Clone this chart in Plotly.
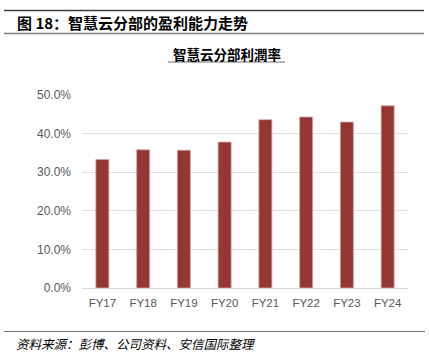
import plotly.graph_objects as go

categories = ["FY17", "FY18", "FY19", "FY20", "FY21", "FY22", "FY23", "FY24"]
margin_values = [0.333, 0.358, 0.357, 0.378, 0.436, 0.443, 0.430, 0.472]
y_ticks = [0, 0.1, 0.2, 0.3, 0.4, 0.5]
y_tick_labels = ["0.0%", "10.0%", "20.0%", "30.0%", "40.0%", "50.0%"]

W, H = 429, 356
L, R, T, B = 82, 21, 95, 68
PW, PH = W - L - R, H - T - B


def px(x):
    return (x - L) / PW


def py(y):
    return (H - B - y) / PH


fig = go.Figure()
fig.add_trace(go.Bar(
    x=categories, y=margin_values,
    marker=dict(color="#943634", line=dict(color="#d3a9a9", width=0.8)),
    width=0.32, hoverinfo="skip",
))

fig.update_layout(
    width=W, height=H,
    margin=dict(l=L, r=R, t=T, b=B),
    paper_bgcolor="white", plot_bgcolor="white",
    showlegend=False,
    font=dict(family="Liberation Sans, Arial, sans-serif", color="#595959", size=11),
    xaxis=dict(range=[-0.5, 7.5], showgrid=False, showline=False, ticks="",
               ticklabelstandoff=6,
               tickfont=dict(size=11.5, color="#595959")),
    yaxis=dict(range=[0, 0.5], tickvals=y_ticks, ticktext=y_tick_labels,
               showgrid=True, gridcolor="#e0e0e0", gridwidth=1,
               zeroline=True, zerolinecolor="#d9d9d9", zerolinewidth=1,
               showline=False, ticks="", ticklabelstandoff=10,
               tickfont=dict(size=12, color="#595959")),
)

shapes = [
    dict(type="line", xref="paper", yref="paper", x0=px(4), x1=px(424), y0=py(10.5), y1=py(10.5),
         line=dict(color="#404040", width=1.5)),
    dict(type="line", xref="paper", yref="paper", x0=px(4), x1=px(424), y0=py(33.5), y1=py(33.5),
         line=dict(color="#808080", width=1.5)),
    dict(type="line", xref="paper", yref="paper", x0=px(168), x1=px(285), y0=py(62), y1=py(62),
         line=dict(color="#a0a0a0", width=1.5)),
    dict(type="line", xref="paper", yref="paper", x0=px(4), x1=px(425), y0=py(331.5), y1=py(331.5),
         line=dict(color="#707070", width=1.2)),
]
fig.update_layout(shapes=shapes)

cjk = "Noto Sans CJK SC, sans-serif"
annotations = [
    dict(text="<b>图 18：智慧云分部的盈利能力走势</b>", xref="paper", yref="paper",
         x=px(15), y=py(22), xanchor="left", yanchor="middle", showarrow=False,
         font=dict(family=cjk, size=15, color="#000000")),
    dict(text="<b>智慧云分部利潤率</b>", xref="paper", yref="paper",
         x=px(226.5), y=py(54), xanchor="center", yanchor="middle", showarrow=False,
         font=dict(family=cjk, size=13.5, color="#000000")),
    dict(text="<i>资料来源：彭博、公司资料、安信国际整理</i>", xref="paper", yref="paper",
         x=px(14), y=py(343), xanchor="left", yanchor="middle", showarrow=False,
         font=dict(family=cjk, size=12.5, color="#000000")),
]
fig.update_layout(annotations=annotations)

fig.write_html("out.html", config={"displayModeBar": False},
               post_script="document.body.style.margin='0';document.body.style.overflow='hidden';")
